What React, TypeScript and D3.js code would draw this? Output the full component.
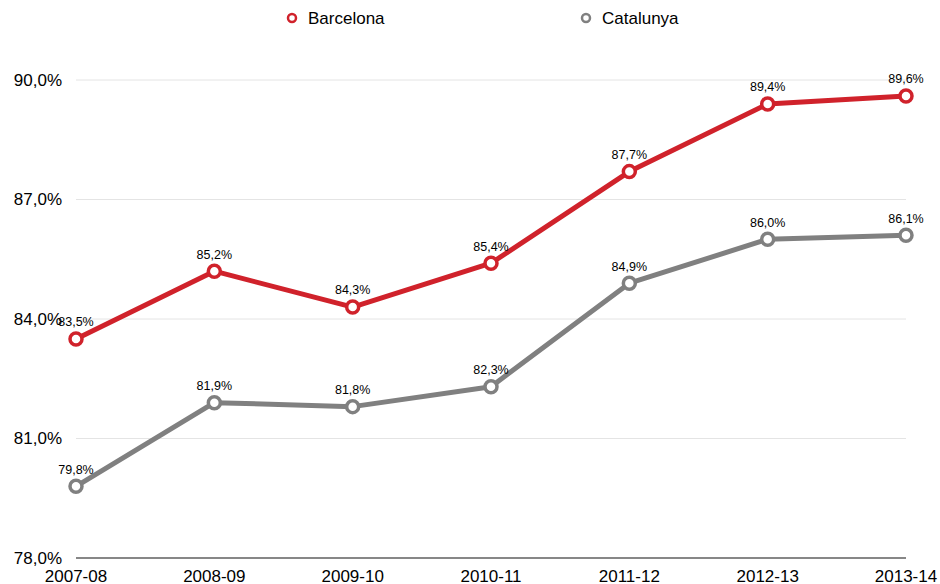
import React from "react";
import * as d3 from "d3";

const categories = ["2007-08", "2008-09", "2009-10", "2010-11", "2011-12", "2012-13", "2013-14"];
const barcelona = [83.5, 85.2, 84.3, 85.4, 87.7, 89.4, 89.6];
const catalunya = [79.8, 81.9, 81.8, 82.3, 84.9, 86.0, 86.1];
const yTicks = [78, 81, 84, 87, 90];
const seriesNames = ["Barcelona", "Catalunya"];
const seriesColors = ["#d0222b", "#808080"];

const W = 940, H = 584;
const left = 76, right = 906, top = 80, bottom = 558;
const font = "'Liberation Sans', Arial, Helvetica, sans-serif";

export default function App() {
  const x = d3.scalePoint<string>().domain(categories).range([left, right]);
  const y = d3.scaleLinear().domain([78, 90]).range([bottom, top]);
  const fmt = (v: number) => v.toFixed(1).replace(".", ",") + "%";
  const line = d3.line<number>().x((_, i) => x(categories[i])!).y((d) => y(d));
  const series = [barcelona, catalunya];
  const legendX = [292, 586];

  return (
    <svg width={W} height={H} style={{ position: "absolute", left: 0, top: 0 }} fontFamily={font}>
      <rect width={W} height={H} fill="#fff" />
      {yTicks.map((t) => (
        <g key={t}>
          {t !== 78 && <line x1={left} x2={right} y1={y(t)} y2={y(t)} stroke="#e4e4e4" strokeWidth={1} />}
          <text x={62} y={y(t)} dy="0.35em" textAnchor="end" fontSize={17} fill="#000">{fmt(t)}</text>
        </g>
      ))}
      <line x1={left} x2={right} y1={bottom} y2={bottom} stroke="#111" strokeWidth={1.2} />
      {categories.map((c) => (
        <text key={c} x={x(c)} y={576} dy="0.35em" textAnchor="middle" fontSize={17} fill="#000">{c}</text>
      ))}
      {series.map((s, si) => (
        <g key={si}>
          <path d={line(s) || ""} fill="none" stroke={seriesColors[si]} strokeWidth={5} strokeLinejoin="round" />
          {s.map((v, i) => (
            <circle key={i} cx={x(categories[i])} cy={y(v)} r={6} fill="#fff" stroke={seriesColors[si]} strokeWidth={3.5} />
          ))}
          {s.map((v, i) => (
            <text key={"l" + i} x={x(categories[i])} y={y(v) - 17} dy="0.35em" textAnchor="middle" fontSize={12.5} fill="#000">{fmt(v)}</text>
          ))}
        </g>
      ))}
      {seriesNames.map((n, i) => (
        <g key={n}>
          <circle cx={legendX[i]} cy={18} r={4} fill="#fff" stroke={seriesColors[i]} strokeWidth={2.5} />
          <text x={legendX[i] + 16} y={18} dy="0.35em" fontSize={17} fill="#000">{n}</text>
        </g>
      ))}
    </svg>
  );
}
